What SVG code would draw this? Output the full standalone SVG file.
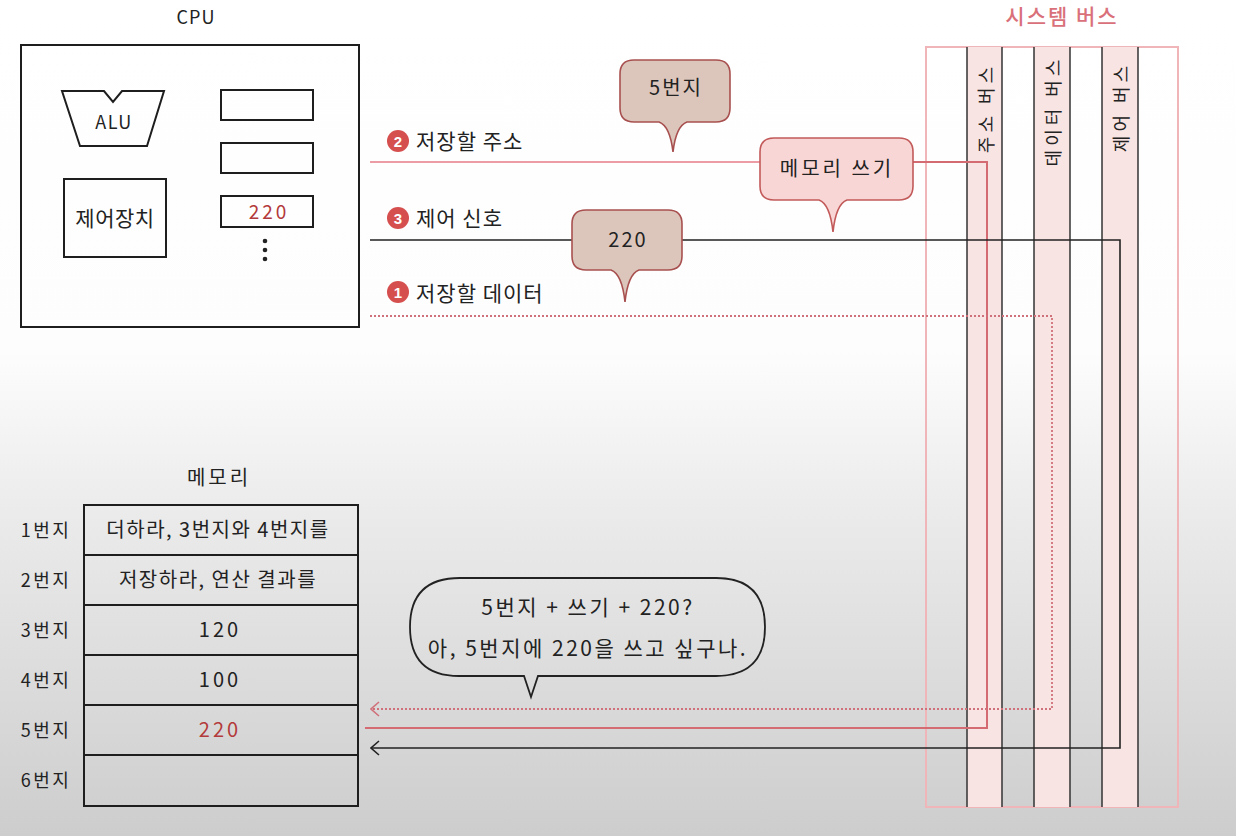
<svg xmlns="http://www.w3.org/2000/svg" width="1236" height="836" viewBox="0 0 1236 836">
<defs>
<linearGradient id="bg" x1="0" y1="0" x2="0" y2="1">
<stop offset="0" stop-color="#ffffff"/>
<stop offset="0.42" stop-color="#fdfdfd"/>
<stop offset="0.6" stop-color="#ececec"/>
<stop offset="1" stop-color="#cdcdcd"/>
</linearGradient>
<marker id="arrBlack" viewBox="0 0 10 16" refX="9" refY="8" markerWidth="10" markerHeight="16" markerUnits="userSpaceOnUse" orient="auto">
<path d="M1,1 L9,8 L1,15" fill="none" stroke="#222" stroke-width="1.6"/>
</marker>
<marker id="arrPink" viewBox="0 0 10 16" refX="9" refY="8" markerWidth="10" markerHeight="16" markerUnits="userSpaceOnUse" orient="auto">
<path d="M1,1 L9,8 L1,15" fill="none" stroke="#d0707a" stroke-width="1.6"/>
</marker>
</defs>
<style>
text{font-family:"Noto Sans CJK KR","Noto Sans",sans-serif;fill:#222;}
.box{fill:none;stroke:#1e1e1e;stroke-width:2;}
.lbl{font-size:21px;letter-spacing:1px;}
.mem{font-size:20px;text-anchor:middle;letter-spacing:1.5px;}
.addr{font-size:18px;text-anchor:middle;letter-spacing:2.5px;}
.num3{font-size:19px;text-anchor:middle;letter-spacing:3px;}
.red{fill:#b33a3a;}
.bus{font-size:18px;text-anchor:middle;letter-spacing:4px;}
.circ{fill:#d64f4f;}
.num{fill:#fff;font-size:15px;font-weight:bold;text-anchor:middle;font-family:"Liberation Sans",sans-serif;}
.tan{fill:#dcc6bc;stroke:#a8504f;stroke-width:1.6;}
.pinkb{fill:#f9d6d6;stroke:#c25a5a;stroke-width:1.6;}
.bt{font-size:20px;text-anchor:middle;letter-spacing:2px;}
.sb{font-size:21px;text-anchor:middle;letter-spacing:2.5px;}
</style>
<rect width="1236" height="836" fill="url(#bg)"/>

<g id="system-bus">
<text x="1062" y="24" style="font-size:21px;fill:#d9707a;font-weight:500;letter-spacing:2px" text-anchor="middle">시스템 버스</text>
<rect x="926" y="47" width="252" height="760" fill="none" stroke="#f0b5b8" stroke-width="2"/>
<rect x="967" y="47" width="35" height="760" fill="#f8e4e2"/>
<rect x="1034" y="47" width="36" height="760" fill="#f8e4e2"/>
<rect x="1102" y="47" width="36" height="760" fill="#f8e4e2"/>
<g stroke="#333" stroke-width="1.5">
<line x1="967" y1="47" x2="967" y2="807"/>
<line x1="1002" y1="47" x2="1002" y2="807"/>
<line x1="1034" y1="47" x2="1034" y2="807"/>
<line x1="1070" y1="47" x2="1070" y2="807"/>
<line x1="1102" y1="47" x2="1102" y2="807"/>
<line x1="1138" y1="47" x2="1138" y2="807"/>
</g>
<text class="bus" transform="translate(985,108) rotate(-90)" dominant-baseline="central">주소 버스</text>
<text class="bus" transform="translate(1052,111) rotate(-90)" dominant-baseline="central">데이터 버스</text>
<text class="bus" transform="translate(1120,107) rotate(-90)" dominant-baseline="central">제어 버스</text>
</g>

<g id="connectors">
<polyline points="370,162 987,162 987,728 365,728" fill="none" stroke="#d46a72" stroke-width="2"/>
<line x1="370" y1="162" x2="760" y2="162" stroke="#ec9ca4" stroke-width="2"/>
<polyline points="370,240 1120,240 1120,748 371,748" fill="none" stroke="#222" stroke-width="1.6" marker-end="url(#arrBlack)"/>
<polyline points="370,316 1052,316 1052,709 371,709" fill="none" stroke="#d0707a" stroke-width="1.8" stroke-dasharray="2 2" marker-end="url(#arrPink)"/>
</g>

<g id="cpu">
<text x="196" y="24" style="font-size:18px;letter-spacing:1px" text-anchor="middle">CPU</text>
<rect class="box" x="21" y="45" width="338" height="282"/>
</g>
<g id="alu">
<path class="box" d="M62,91 L104,91 L113,102 L122,91 L164,91 L147,146 L80,146 Z"/>
<text x="114" y="129" style="font-size:18px;letter-spacing:1.5px" text-anchor="middle">ALU</text>
</g>
<g id="control-unit">
<rect class="box" x="64" y="179" width="102" height="78"/>
<text x="115" y="226" style="font-size:21px;letter-spacing:0.5px" text-anchor="middle">제어장치</text>
</g>
<g id="registers">
<rect class="box" x="221" y="90" width="92" height="30"/>
<rect class="box" x="221" y="143" width="92" height="30"/>
<rect class="box" x="221" y="196" width="92" height="31"/>
<text class="num3 red" x="269" y="219">220</text>
<circle cx="265" cy="241" r="2.3" fill="#222"/>
<circle cx="265" cy="250" r="2.3" fill="#222"/>
<circle cx="265" cy="259" r="2.3" fill="#222"/>
</g>

<g id="label-address">
<circle class="circ" cx="398" cy="141" r="11"/>
<text class="num" x="398" y="146.5">2</text>
<text class="lbl" x="416" y="149">저장할 주소</text>
</g>
<g id="label-control">
<circle class="circ" cx="398" cy="218" r="11"/>
<text class="num" x="398" y="223.5">3</text>
<text class="lbl" x="416" y="226">제어 신호</text>
</g>
<g id="label-data">
<circle class="circ" cx="398" cy="292" r="11"/>
<text class="num" x="398" y="297.5">1</text>
<text class="lbl" x="416" y="301">저장할 데이터</text>
</g>

<g id="bubble-address">
<path class="tan" d="M634,60 H716 Q730,60 730,74 V108 Q730,122 716,122 H687 Q676,126 673,152 Q670,126 659,122 H634 Q620,122 620,108 V74 Q620,60 634,60 Z"/>
<text class="bt" x="676" y="95">5번지</text>
</g>
<g id="bubble-write">
<path class="pinkb" d="M774,138 H899 Q913,138 913,152 V186 Q913,200 899,200 H847 Q836,204 833,232 Q830,204 819,200 H774 Q760,200 760,186 V152 Q760,138 774,138 Z"/>
<text class="bt" x="837" y="176" style="letter-spacing:3px">메모리 쓰기</text>
</g>
<g id="bubble-data">
<path class="tan" d="M586,210 H668 Q682,210 682,224 V256 Q682,270 668,270 H639 Q628,274 625,302 Q622,274 611,270 H586 Q572,270 572,256 V224 Q572,210 586,210 Z"/>
<text class="bt" x="628" y="247">220</text>
</g>

<g id="memory">
<text x="219" y="485" style="font-size:20px;letter-spacing:3px" text-anchor="middle">메모리</text>
<rect class="box" x="84" y="505" width="274" height="301"/>
<g stroke="#1e1e1e" stroke-width="2">
<line x1="84" y1="555" x2="358" y2="555"/>
<line x1="84" y1="605" x2="358" y2="605"/>
<line x1="84" y1="655" x2="358" y2="655"/>
<line x1="84" y1="705" x2="358" y2="705"/>
<line x1="84" y1="755" x2="358" y2="755"/>
</g>
<text class="addr" x="46" y="537">1번지</text>
<text class="addr" x="46" y="587">2번지</text>
<text class="addr" x="46" y="637">3번지</text>
<text class="addr" x="46" y="687">4번지</text>
<text class="addr" x="46" y="737">5번지</text>
<text class="addr" x="46" y="787">6번지</text>
<text class="mem" x="218" y="537">더하라, 3번지와 4번지를</text>
<text class="mem" x="218" y="587">저장하라, 연산 결과를</text>
<text class="mem" x="220" y="637" style="letter-spacing:3px">120</text>
<text class="mem" x="220" y="687" style="letter-spacing:3px">100</text>
<text class="mem red" x="220" y="737" style="letter-spacing:3px">220</text>
</g>

<g id="speech-bubble">
<path d="M460,578 H716 Q765,578 765,627 Q765,676 716,676 H538 L531,697 L524,676 H459 Q410,676 410,627 Q410,578 460,578 Z" fill="none" stroke="#222" stroke-width="1.8"/>
<text class="sb" x="588" y="615">5번지 + 쓰기 + 220?</text>
<text class="sb" x="588" y="656">아, 5번지에 220을 쓰고 싶구나.</text>
</g>
</svg>
